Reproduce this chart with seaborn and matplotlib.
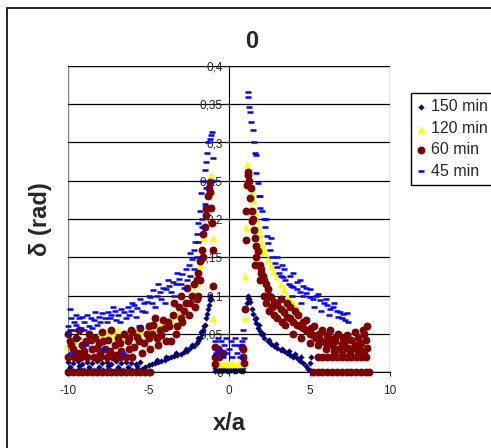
import matplotlib
matplotlib.use("Agg")
import matplotlib.pyplot as plt
from matplotlib.patches import Rectangle
import seaborn as sns
import pandas as pd

sns.set_style("white")
plt.rcParams["font.family"] = ["Liberation Sans", "DejaVu Sans"]
plt.rcParams["axes.unicode_minus"] = False

# --- 150 min ---
x150 = [-10.0, -9.8, -9.6, -9.4, -9.2, -9.0, -8.8, -8.6, -8.4, -8.2, -8.0, -7.8, -7.6, -7.4, -7.2, -7.0,
        -6.8, -6.6, -6.4, -6.2, -6.0, -5.8, -5.6, -5.4,
        -10.0, -9.7, -9.4, -9.1, -8.8, -8.5, -8.2, -7.9, -7.6, -7.3, -7.0, -6.7, -6.4, -6.1, -5.8, -5.5,
        -9.9, -9.3, -8.7, -8.1, -7.5, -6.9, -6.3, -5.7, -10.0, -9.5,
        -5.2, -5.0, -4.8, -4.6, -4.4, -4.2, -4.0, -3.8, -3.6, -3.4, -3.2, -3.0, -2.8, -2.6, -2.4, -2.2,
        -2.0, -1.9, -1.8, -1.7, -1.6, -1.5, -1.4, -1.35, -1.3, -1.25, -1.2, -1.15, -1.1,
        -4.5, -3.9, -3.3, -2.7, -2.3, -1.95, -1.75, -1.55,
        -0.9, -0.75, -0.6, -0.45, -0.3, -0.15, 0.0, 0.15, 0.3, 0.45, 0.6, 0.75, 0.9,
        -0.85, -0.5, -0.1, 0.3, 0.7, 0.9,
        1.1, 1.15, 1.2, 1.25, 1.3, 1.4, 1.5, 1.6, 1.7, 1.8, 1.9, 2.0, 2.2, 2.4, 2.6, 2.8, 3.0, 3.2,
        3.4, 3.6, 3.8, 4.0, 4.2, 4.4, 4.6, 4.8, 4.9, 5.0, 5.05, 5.1,
        1.65, 1.85, 2.1, 2.5, 2.9, 3.3, 3.7, 4.1, 4.5]
y150 = [0.002, 0.003, 0.001, 0.002, 0.003, 0.002, 0.001, 0.003, 0.002, 0.002, 0.001, 0.003, 0.002, 0.003,
        0.001, 0.002, 0.003, 0.002, 0.001, 0.002, 0.003, 0.002, 0.003, 0.004,
        0.013, 0.012, 0.014, 0.011, 0.013, 0.012, 0.015, 0.012, 0.013, 0.011, 0.014, 0.012, 0.013, 0.012,
        0.011, 0.013,
        0.007, 0.008, 0.006, 0.007, 0.008, 0.006, 0.007, 0.008, 0.02, 0.018,
        0.006, 0.009, 0.011, 0.012, 0.013, 0.015, 0.016, 0.018, 0.019, 0.021, 0.022, 0.024, 0.026, 0.028,
        0.031, 0.034, 0.038, 0.041, 0.045, 0.05, 0.055, 0.062, 0.07, 0.076, 0.082, 0.088, 0.094, 0.099, 0.096,
        0.016, 0.02, 0.025, 0.03, 0.035, 0.044, 0.052, 0.06,
        0.001, 0.002, 0.001, 0.001, 0.002, 0.001, 0.001, 0.002, 0.001, 0.001, 0.002, 0.001, 0.001,
        0.005, 0.005, 0.005, 0.005, 0.005, 0.005,
        0.09, 0.097, 0.1, 0.096, 0.091, 0.083, 0.076, 0.069, 0.064, 0.058, 0.054, 0.05, 0.045, 0.041, 0.037,
        0.034, 0.031, 0.029, 0.027, 0.025, 0.022, 0.02, 0.018, 0.015, 0.012, 0.008, 0.004, 0.002, 0.012, 0.02,
        0.07, 0.062, 0.05, 0.042, 0.036, 0.03, 0.027, 0.023, 0.019]

# --- 120 min ---
x120 = [-10.0, -9.9, -9.6, -9.3, -9.0, -8.7, -8.4, -8.1, -7.8, -7.5, -7.2, -6.9, -6.6, -6.3, -6.0, -5.7,
        -5.4, -5.1, -4.8, -4.5, -4.2, -3.9, -3.6, -3.3, -3.0, -2.8, -2.6, -2.4, -2.2, -2.0, -1.9, -1.8,
        -1.7, -1.6, -1.5, -1.4, -1.3, -1.2, -1.1, -1.05, -1.0, -0.98,
        -0.8, -0.6, -0.4, -0.2, 0.0, 0.2, 0.4, 0.6, 0.8, -0.9, 0.9,
        0.98, 1.0, 1.05, 1.1, 1.15, 1.2, 1.3, 1.4, 1.5, 1.6, 1.7, 1.8, 1.9, 2.0, 2.1, 2.2, 2.4, 2.6, 2.8,
        3.0, 3.2, 3.4, 3.6, 3.8, 4.0, 4.2]
y120 = [0.035, 0.042, 0.04, 0.046, 0.043, 0.048, 0.045, 0.05, 0.047, 0.052, 0.05, 0.055, 0.048, 0.053,
        0.05, 0.055, 0.052, 0.056, 0.058, 0.06, 0.062, 0.064, 0.07, 0.075, 0.08, 0.085, 0.09, 0.097, 0.105,
        0.115, 0.125, 0.14, 0.155, 0.175, 0.195, 0.215, 0.235, 0.25, 0.258, 0.235, 0.175, 0.07,
        0.012, 0.01, 0.012, 0.01, 0.011, 0.012, 0.01, 0.012, 0.01, 0.02, 0.025,
        0.07, 0.125, 0.19, 0.272, 0.265, 0.255, 0.245, 0.235, 0.225, 0.21, 0.2, 0.19, 0.18, 0.17, 0.163,
        0.157, 0.148, 0.14, 0.132, 0.125, 0.115, 0.108, 0.1, 0.095, 0.09, 0.086]

# --- 60 min ---
x60 = [-10.0, -9.7, -9.4, -9.1, -8.8, -8.5, -8.2, -7.9, -7.6, -7.3, -7.0, -6.7, -6.4, -6.1, -5.8, -5.5,
       -5.2, -4.9,
       -10.0, -9.6, -9.2, -8.8, -8.4, -8.0, -7.6, -7.2, -6.8, -6.4, -6.0,
       -10.0, -9.9, -9.7, -9.5, -9.3, -9.1, -8.9, -8.7, -8.5, -8.3, -8.1, -7.9, -7.7, -7.5, -7.3, -7.1,
       -6.9, -6.7, -6.5, -6.3, -6.1, -5.9, -5.7, -5.5, -5.3, -5.1, -4.9, -4.7, -4.5, -4.3, -4.1, -3.9,
       -3.7, -3.5, -3.3, -3.1, -2.9, -2.7, -2.5, -2.3, -2.1, -2.0, -1.9, -1.8, -1.7, -1.6, -1.5, -1.45,
       -1.4, -1.3, -1.25, -1.2, -1.15, -1.1, -1.05, -1.0, -0.98,
       -6.0, -5.0, -4.0, -3.0, -2.6, -2.2, -4.6, -3.4, -1.95, -8.0, -9.0, -7.0, -6.2, -5.4, -4.4, -3.6,
       -9.8, -9.4, -8.6, -8.2, -7.8, -7.4, -6.8, -6.2, -5.6, -5.0, -4.2, -3.8, -3.2, -2.8, -2.4, -1.8,
       -1.6, -4.8, -3.0, -2.0,
       -0.9, -0.9, -0.7, -0.6, -0.4, 0.8, 0.9, 0.95, 0.85, -0.85,
       1.0, 1.05, 1.08, 1.12, 1.15, 1.2, 1.25, 1.3, 1.35, 1.4, 1.45, 1.5, 1.55, 1.6, 1.7, 1.8, 1.9, 2.0,
       2.1, 2.2, 2.3, 2.4, 2.5, 2.6, 2.8, 3.0, 3.2, 3.4, 3.6, 3.8, 4.0, 4.2, 4.4, 4.6, 4.8, 5.0, 5.2,
       5.4, 5.6, 5.8, 6.0, 6.2, 6.4, 6.6, 6.8, 7.0, 7.2, 7.4, 7.6, 7.8, 8.0, 8.2, 8.4, 8.6, 8.6, 8.5,
       2.5, 3.0, 3.5, 4.0, 4.5, 5.0, 5.5, 6.0, 6.5, 7.0, 7.5, 8.0, 3.2, 3.8, 4.3, 4.8, 5.3, 5.8, 6.3,
       6.8, 7.3, 7.8, 8.3, 2.2, 2.7, 1.6, 1.9,
       1.7, 2.0, 2.3, 2.8, 3.3, 3.6, 4.1, 4.6, 5.1, 5.6, 6.1, 6.6, 7.1, 7.6, 8.1, 8.4,
       5.5, 5.8, 6.1, 6.4, 6.7, 7.0, 7.3, 7.6, 7.9, 8.2, 8.5,
       5.2, 5.5, 5.8, 6.1, 6.4, 6.7, 7.0, 7.3, 7.6, 7.9, 8.2, 8.5, 8.7]
y60 = [0.0] * 18 + [0.02] * 11 + [
       0.05, 0.04, 0.03, 0.045, 0.055, 0.035, 0.04, 0.05, 0.03, 0.045, 0.038, 0.052, 0.03, 0.042, 0.055,
       0.035, 0.045, 0.028, 0.05, 0.04, 0.055, 0.033, 0.046, 0.058, 0.038, 0.05, 0.03, 0.062, 0.045, 0.055,
       0.068, 0.04, 0.06, 0.075, 0.05, 0.085, 0.065, 0.09, 0.075, 0.1, 0.085, 0.12, 0.13, 0.145, 0.16,
       0.18, 0.19, 0.205, 0.215, 0.23, 0.24, 0.248, 0.235, 0.215, 0.195, 0.16, 0.113,
       0.052, 0.06, 0.058, 0.07, 0.11, 0.115, 0.07, 0.09, 0.1, 0.025, 0.028, 0.022, 0.03, 0.025, 0.035,
       0.04,
       0.035, 0.025, 0.042, 0.032, 0.04, 0.028, 0.038, 0.045, 0.04, 0.045, 0.048, 0.065, 0.06, 0.08,
       0.09, 0.12, 0.15, 0.05, 0.1, 0.095,
       0.033, 0.02, 0.03, 0.02, 0.025, 0.033, 0.02, 0.012, 0.03, 0.01,
       0.082, 0.172, 0.21, 0.245, 0.262, 0.258, 0.25, 0.228, 0.24, 0.21, 0.198, 0.2, 0.185, 0.175, 0.165,
       0.158, 0.14, 0.135, 0.125, 0.12, 0.115, 0.108, 0.1, 0.098, 0.092, 0.088, 0.082, 0.078, 0.072, 0.07,
       0.066, 0.062, 0.06, 0.057, 0.055, 0.05, 0.048, 0.045, 0.043, 0.04, 0.038, 0.045, 0.035, 0.04, 0.03,
       0.036, 0.04, 0.032, 0.042, 0.035, 0.045, 0.038, 0.05, 0.06, 0.032, 0.042,
       0.08, 0.07, 0.062, 0.05, 0.045, 0.038, 0.035, 0.03, 0.028, 0.027, 0.026, 0.028, 0.095, 0.085, 0.075,
       0.068, 0.06, 0.055, 0.055, 0.05, 0.048, 0.052, 0.055, 0.1, 0.085, 0.14, 0.12,
       0.15, 0.13, 0.09, 0.075, 0.065, 0.09, 0.08, 0.065, 0.058, 0.05, 0.048, 0.045, 0.045, 0.03, 0.032,
       0.028] + [0.02] * 11 + [0.0] * 13

# --- 45 min ---
x45 = [-10.0, -9.9, -9.8, -9.6, -9.5, -9.3, -9.1, -9.0, -8.8, -8.6, -8.4, -8.3, -8.1, -7.9, -7.7, -7.5,
       -7.3, -7.1, -6.9, -6.7, -6.5, -6.3, -6.1, -5.9, -5.7, -5.5, -5.3, -5.1, -4.9, -4.7, -4.5, -4.3,
       -4.1, -3.9, -3.7, -3.5, -3.3, -3.1, -2.9, -2.7, -2.5, -2.3, -2.2, -2.1, -2.0, -1.9, -1.8, -1.75,
       -1.6, -1.5, -1.4, -1.35, -1.3, -1.2, -1.1, -1.05, -1.0, -0.98,
       -10.0, -9.7, -9.2, -8.7, -8.2, -7.6, -7.0, -6.4, -5.8, -5.2, -4.6, -4.0, -3.4, -2.8, -2.4, -2.0,
       -1.7, -1.5, -9.4, -8.9, -7.8, -6.6, -9.8, -5.6,
       -9.9, -9.5, -9.0, -8.5, -8.0, -7.4, -6.8, -6.2, -5.4, -4.8, -4.2, -3.6, -3.0, -2.6, -2.2, -1.9,
       -1.65, -1.45, -7.2, -6.0, -5.0, -4.4, -3.8, -3.2, -2.4,
       -0.9, -0.8, -0.7, -0.6, -0.5, -0.4, -0.3, -0.2, -0.1, 0.0, 0.1, 0.2, 0.3, 0.4, 0.5, 0.6, 0.7, 0.8,
       0.9, 0.95,
       1.18, 1.2, 1.25, 1.28, 1.37, 1.49, 1.55, 1.6, 1.68, 1.7, 1.8, 1.85, 1.95, 2.05, 2.15, 2.24, 2.35,
       2.45, 2.55, 2.7, 2.85, 2.97, 3.1, 3.2, 3.35, 3.5, 3.7, 3.85, 4.0, 4.2, 4.4, 4.6, 4.8, 5.0, 5.2,
       5.4, 5.65, 5.9, 6.1, 6.3, 6.46, 6.7, 6.9, 7.1, 7.3, 7.4, 7.2, 7.0, 6.8,
       2.6, 3.0, 3.4, 3.8, 4.2, 4.6, 5.0, 5.5, 6.0, 6.5, 3.3, 4.0, 4.4, 4.8, 5.7, 6.2, 3.9, 4.5, 5.3,
       1.9, 2.3]
y45 = [0.06, 0.082, 0.07, 0.065, 0.075, 0.07, 0.072, 0.065, 0.075, 0.07, 0.068, 0.078, 0.072, 0.077, 0.07,
       0.078, 0.075, 0.08, 0.075, 0.082, 0.078, 0.085, 0.08, 0.088, 0.084, 0.095, 0.09, 0.092, 0.098, 0.107,
       0.1, 0.105, 0.11, 0.108, 0.112, 0.118, 0.115, 0.122, 0.128, 0.135, 0.14, 0.148, 0.16, 0.17, 0.18,
       0.195, 0.21, 0.234, 0.25, 0.264, 0.275, 0.286, 0.3, 0.305, 0.31, 0.314, 0.28, 0.25,
       0.05, 0.055, 0.058, 0.06, 0.062, 0.065, 0.068, 0.07, 0.072, 0.078, 0.085, 0.09, 0.1, 0.11, 0.125,
       0.15, 0.19, 0.22, 0.045, 0.035, 0.03, 0.025, 0.025, 0.06,
       0.055, 0.062, 0.055, 0.058, 0.065, 0.07, 0.065, 0.075, 0.08, 0.09, 0.095, 0.105, 0.115, 0.12,
       0.135, 0.17, 0.2, 0.24, 0.085, 0.09, 0.1, 0.115, 0.12, 0.13, 0.155,
       0.04, 0.025, 0.045, 0.03, 0.04, 0.02, 0.035, 0.045, 0.025, 0.03, 0.04, 0.02, 0.035, 0.045, 0.025,
       0.035, 0.02, 0.04, 0.055, 0.045,
       0.366, 0.36, 0.346, 0.34, 0.327, 0.316, 0.3, 0.286, 0.284, 0.26, 0.247, 0.23, 0.215, 0.21, 0.2,
       0.19, 0.178, 0.168, 0.16, 0.15, 0.142, 0.137, 0.13, 0.125, 0.124, 0.12, 0.115, 0.112, 0.111, 0.108,
       0.105, 0.1, 0.103, 0.098, 0.095, 0.1, 0.094, 0.09, 0.088, 0.082, 0.085, 0.08, 0.078, 0.076, 0.077,
       0.065, 0.068, 0.07, 0.072,
       0.175, 0.15, 0.135, 0.125, 0.118, 0.112, 0.108, 0.102, 0.096, 0.09, 0.14, 0.13, 0.12, 0.11, 0.08,
       0.075, 0.1, 0.09, 0.085, 0.23, 0.2]

series_names = ["150 min", "120 min", "60 min", "45 min"]
series_x = [x150, x120, x60, x45]
series_y = [y150, y120, y60, y45]

yticks = [0, 0.05, 0.1, 0.15, 0.2, 0.25, 0.3, 0.35, 0.4]
ytick_labels = ["0", "0,05", "0,1", "0,15", "0,2", "0,25", "0,3", "0,35", "0,4"]
xticks = [-10, -5, 0, 5, 10]
xtick_labels = ["-10", "-5", "0", "5", "10"]

df = pd.concat(
    [pd.DataFrame({"x": xs, "y": ys, "series": name})
     for name, xs, ys in zip(series_names, series_x, series_y)],
    ignore_index=True,
)

styles = {
    "150 min": dict(marker="D", color="#000080", s=10, edgecolor="#000080", linewidth=0),
    "120 min": dict(marker="^", color="#FFFF00", s=30, edgecolor="#FFFF00", linewidth=0),
    "60 min": dict(marker="o", color="#800000", s=32, edgecolor="#800000", linewidth=0),
    "45 min": dict(marker="_", color="#0000FF", s=13, linewidth=1.8),
}

W, H = 491, 448
fig = plt.figure(figsize=(W / 100, H / 100), dpi=100)
ax = fig.add_axes([68 / W, 1 - 372 / H, 322 / W, 306 / H])

for i, name in enumerate(series_names):
    sub = df[df["series"] == name]
    sns.scatterplot(data=sub, x="x", y="y", ax=ax, label=name, zorder=2 + i,
                    clip_on=False, **styles[name])

ax.set_xlim(-10, 10)
ax.set_ylim(0, 0.4)
ax.set_xticks(xticks)
ax.set_xticklabels(xtick_labels)
ax.set_yticks(yticks)
ax.set_yticklabels(ytick_labels)
ax.set_xlabel("")
ax.set_ylabel("")

# Excel-like axes: value axis crossing at x = 0
ax.set_axisbelow(True)
ax.yaxis.grid(True, color="black", linewidth=0.9)
ax.xaxis.grid(False)
ax.spines["left"].set_position(("data", 0))
ax.spines["left"].set_color("black")
ax.spines["bottom"].set_color("black")
ax.spines["top"].set_visible(False)
ax.spines["right"].set_visible(False)
ax.add_patch(Rectangle((0, 0), 1, 1, transform=ax.transAxes, fill=False,
                       edgecolor="#808080", linewidth=1, zorder=0.4))
ax.tick_params(axis="y", direction="out", length=3, pad=1.5, labelsize=8.5, left=True)
ax.tick_params(axis="x", direction="out", length=3, pad=6, labelsize=8.5, bottom=True)

fig.text(252 / W, 1 - 48 / H, "0", ha="center", va="baseline", fontsize=17, fontweight="bold")
fig.text(229 / W, 1 - 430 / H, "x/a", ha="center", va="baseline", fontsize=17, fontweight="bold")
fig.text(47 / W, 1 - 219 / H, "δ (rad)", ha="center", va="baseline", rotation=90,
         rotation_mode="anchor", fontsize=17, fontweight="bold")

leg = ax.legend(loc="upper left", bbox_to_anchor=(411 / W, 1 - 93 / H), bbox_transform=fig.transFigure,
                borderaxespad=0, fontsize=11.5, frameon=True, fancybox=False, framealpha=1,
                edgecolor="black", handlelength=0.5, handletextpad=0.35, borderpad=0.4,
                labelspacing=0.4, scatterpoints=1)
leg.get_frame().set_linewidth(1)

# outer chart border
fig.patches.append(Rectangle((7 / W, -0.05), 1.0, (1 - 8 / H) + 0.05, transform=fig.transFigure,
                             fill=False, edgecolor="black", linewidth=1.2))

fig.savefig("out.png", dpi=100)
